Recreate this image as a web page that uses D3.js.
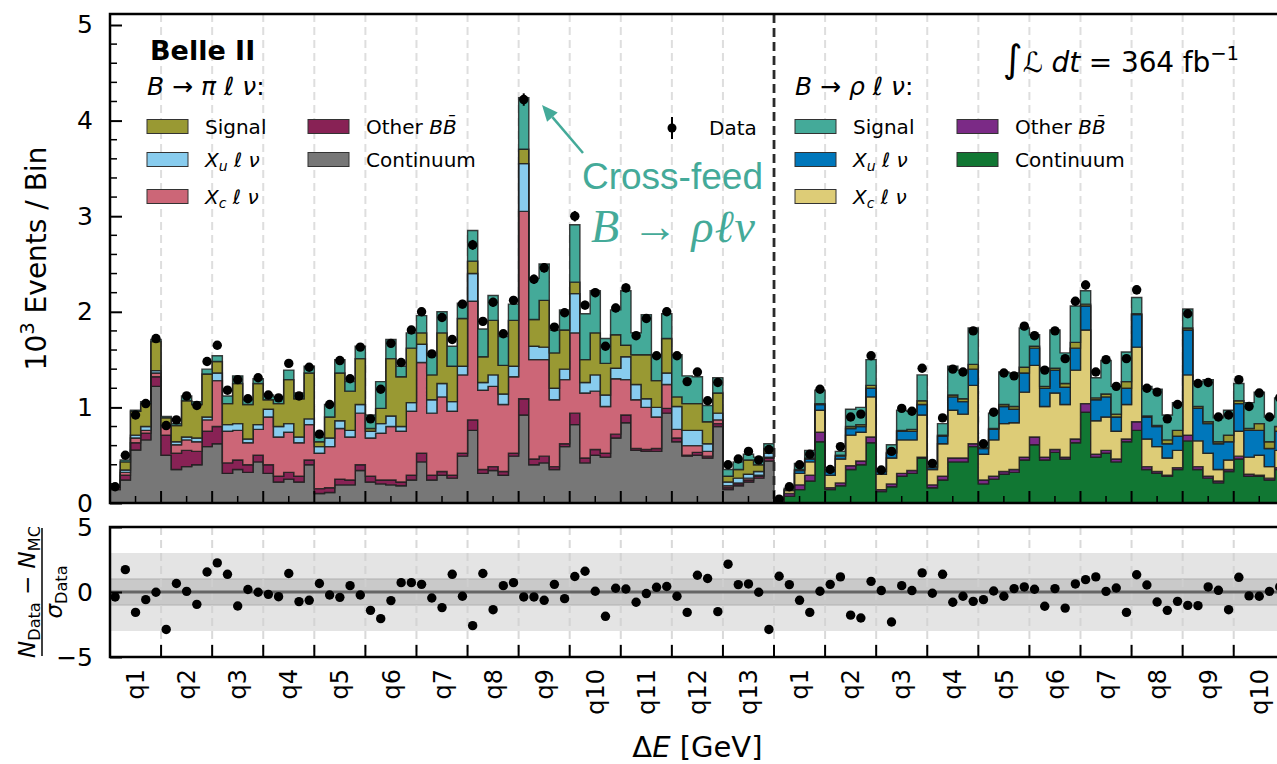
<!DOCTYPE html>
<html>
<head>
<meta charset="utf-8">
<script src="https://cdn.jsdelivr.net/npm/d3@7"></script>
<style>
body { margin: 0; background: #fff; }
svg { display: block; font-family: 'DejaVu Sans', sans-serif; }
</style>
</head>
<body>
<svg id="chart" width="1277" height="764"></svg>
<script>
// B -> pi l nu, 13 q2 bins x 5 dE bins (units of 10^3 events)
const piCont  = [.14,.24,.555,.66,1.22,.50,.35,.38,.40,.59,.62,.31,.35,.32,.43,.31,.22,.25,.22,.40,.10,.11,.19,.19,.34,.22,.20,.19,.18,.24,.43,.24,.29,.26,.49,.76,.31,.34,.29,.49,.92,.40,.42,.35,.59,.82,.42,.50,.48,.68,.84,.55,.54,.54,.94,.64,.49,.50,.47,.80,.14,.18,.22,.26,.44];
const piOther = [.03,.05,.075,.07,.10,.21,.17,.17,.14,.16,.18,.11,.10,.08,.07,.09,.06,.07,.06,.05,.05,.05,.06,.05,.06,.06,.04,.05,.04,.05,.09,.05,.04,.03,.03,.11,.04,.04,.04,.03,.17,.06,.07,.03,.03,.12,.05,.06,.04,.04,.08,.02,.02,.03,.05,.04,.01,.03,.02,.03,.02,.02,.02,.02,.03];
const piXc    = [0,.03,.05,.03,.04,.09,.09,.11,.10,.12,.48,.33,.31,.23,.27,.50,.41,.42,.35,.37,.37,.43,.53,.45,.54,.40,.49,.56,.53,.67,.95,.65,.78,.67,.82,1.24,.83,.84,.70,.80,1.96,1.04,1.01,.70,.67,.84,.68,.61,.49,.58,.37,.51,.44,.33,.25,.09,.10,.07,.05,.04,.02,.01,.02,.01,.01];
const piXu    = [0,.025,.03,.04,.025,.015,.03,.03,.04,.03,.08,.07,.07,.04,.05,.08,.11,.09,.06,.06,.07,.09,.08,.07,.09,.07,.10,.11,.05,.09,.19,.14,.14,.10,.09,.29,.08,.12,.11,.11,.50,.14,.13,.12,.11,.41,.11,.17,.12,.11,.24,.16,.09,.10,.12,.24,.16,.16,.08,.07,.04,.05,.04,.04,.04];
const piSig   = [0,.085,.25,.24,.305,.075,.17,.38,.35,.45,.12,.22,.42,.36,.43,.10,.24,.46,.40,.48,.05,.22,.50,.41,.48,.03,.16,.60,.52,.57,.12,.26,.53,.37,.50,.13,.27,.57,.30,.48,.15,.28,.49,.37,.41,.12,.24,.44,.33,.35,.12,.31,.46,.28,.36,.10,.28,.28,.23,.21,.06,.09,.15,.07,.05];
const piXfeed = [.005,.02,.01,.02,.02,.015,.02,.05,.03,.05,.06,.08,.08,.05,.05,.05,.07,.10,.06,.07,.05,.13,.14,.10,.13,.14,.28,.20,.11,.16,.18,.20,.22,.21,.16,.32,.29,.26,.30,.17,.54,.43,.38,.24,.21,.60,.48,.44,.26,.26,.57,.23,.42,.27,.26,.44,.29,.28,.17,.16,.07,.08,.06,.08,.05];
const piData  = [.17,.50,.92,1.04,1.72,.81,.87,1.12,1.02,1.48,1.65,1.18,1.29,1.09,1.31,1.13,1.10,1.46,1.12,1.42,.72,1.03,1.49,1.30,1.63,.88,1.19,1.67,1.47,1.81,2.00,1.56,1.94,1.71,2.08,2.70,1.90,2.10,1.77,2.12,4.22,2.34,2.46,1.84,1.99,3.00,2.07,2.20,1.64,2.04,2.25,1.75,1.93,1.54,2.00,1.54,1.27,1.37,1.07,1.26,.40,.46,.54,.45,.56];
const piPull  = [-0.38,1.72,-1.57,-0.59,-0.02,-2.88,0.65,0.05,-0.95,1.54,2.24,1.36,-1.08,0.19,-0.02,-0.18,-0.36,1.42,-0.74,-0.64,0.65,-0.23,-0.41,0.49,-0.23,-1.41,-2.05,-0.66,0.72,0.72,0.59,-0.46,-1.2,1.36,-0.33,-2.59,1.42,-1.36,0.49,0.72,-0.38,-0.38,-0.64,0.59,-0.51,1.19,1.6,0.06,-1.87,0.29,0.23,-0.79,-0.12,0.36,0.42,-0.33,-1.57,1.29,1.04,-1.51,2.14,0.57,0.62,-0.02,-2.88];

// B -> rho l nu, 10 q2 bins x 5 dE bins
const rhoCont  = [.015,.07,.14,.23,.64,.14,.18,.35,.40,.63,.12,.17,.28,.31,.47,.16,.24,.43,.43,.59,.20,.25,.30,.32,.45,.61,.45,.53,.46,.63,.95,.48,.52,.43,.64,.76,.35,.31,.28,.35,.65,.35,.26,.21,.33,.46,.28,.28,.24,.35];
const rhoOther = [.005,.03,.05,.06,.10,.02,.03,.04,.04,.06,.02,.03,.03,.03,.01,.03,.04,.04,.04,.03,.04,.03,.03,.03,.03,.08,.03,.03,.02,.04,.09,.03,.03,.03,.03,.09,.03,.02,.01,.02,.06,.03,.02,.02,.02,.03,.02,.01,.02,.02];
const rhoXc    = [.005,.03,.12,.14,.23,.13,.25,.32,.30,.42,.16,.27,.35,.32,.44,.16,.34,.50,.46,.61,.27,.38,.50,.49,.68,.75,.53,.59,.55,.72,.77,.35,.35,.29,.36,.78,.29,.26,.18,.18,.63,.27,.24,.12,.10,.26,.18,.21,.12,.18];
const rhoXu    = [.003,.01,.03,.03,.06,.04,.03,.07,.06,.09,.03,.05,.09,.09,.11,.02,.08,.14,.13,.17,.06,.11,.18,.14,.20,.18,.19,.24,.18,.23,.25,.22,.21,.15,.17,.34,.23,.21,.15,.15,.47,.34,.31,.27,.19,.29,.28,.26,.19,.20];
const rhoXfeed = [.002,.005,.01,.01,.01,.015,.01,.02,.02,.03,.005,.01,.01,.02,.04,.01,.01,.02,.03,.05,.01,.01,.02,.03,.06,.02,.02,.02,.04,.06,.02,.02,.03,.03,.07,.01,.01,.01,.04,.06,.02,.02,.02,.02,.07,.03,.02,.07,.07,.05];
const rhoSig   = [.005,.01,.065,.08,.14,.025,.04,.18,.18,.27,.01,.08,.21,.19,.27,.04,.12,.30,.30,.38,.05,.16,.34,.35,.41,.12,.19,.40,.32,.38,.14,.21,.35,.29,.31,.17,.31,.38,.26,.29,.20,.26,.44,.25,.26,.18,.27,.33,.26,.30];
const rhoData  = [.04,.17,.40,.51,1.19,.35,.59,.90,.93,1.54,.345,.54,.99,.96,1.41,.415,.89,1.40,1.37,1.80,.62,.95,1.36,1.33,1.85,1.75,1.39,1.80,1.51,2.11,2.28,1.37,1.50,1.22,1.51,2.23,1.20,1.16,.88,1.03,1.98,1.25,1.26,.90,.92,1.29,1.01,1.15,.90,1.10];
const rhoPull  = [1.21,0.57,-0.64,-1.57,0.06,0.59,1.16,-1.78,-2.0,0.82,0.11,-2.31,0.49,0.11,1.47,-0.1,1.36,-0.79,-0.33,-0.72,-0.59,0.08,-0.33,0.26,0.39,0.21,-1.1,0.26,-1.24,0.62,0.95,1.16,0.05,0.31,-1.57,1.33,0.54,-0.77,-1.41,-0.72,-1.03,-1.05,0.39,0.13,-1.36,1.13,-0.3,-0.33,0.05,0.39];

const piBins  = ['q1','q2','q3','q4','q5','q6','q7','q8','q9','q10','q11','q12','q13'];
const rhoBins = ['q1','q2','q3','q4','q5','q6','q7','q8','q9','q10'];
const yTicks = [0, 1, 2, 3, 4, 5];
const pullTicks = [-5, 0, 5];
const perQ = 5;

const piLayers = [
	{ key: 'cont', values: piCont, color: '#777777' },
	{ key: 'other', values: piOther, color: '#882255' },
	{ key: 'xc', values: piXc, color: '#cc6677' },
	{ key: 'xu', values: piXu, color: '#88ccee' },
	{ key: 'sig', values: piSig, color: '#999933' },
	{ key: 'xfeed', values: piXfeed, color: '#44aa99' }
];
const rhoLayers = [
	{ key: 'cont', values: rhoCont, color: '#117733' },
	{ key: 'other', values: rhoOther, color: '#7b2a86' },
	{ key: 'xc', values: rhoXc, color: '#ddcc77' },
	{ key: 'xu', values: rhoXu, color: '#0077bb' },
	{ key: 'xfeed', values: rhoXfeed, color: '#999933' },
	{ key: 'sig', values: rhoSig, color: '#44aa99' }
];

const nPi = piData.length;
const nAll = nPi + rhoData.length;

const svg = d3.select('#chart');
svg.append('rect').attr('width', 1277).attr('height', 764).attr('fill', '#fff');

const x = d3.scaleLinear().domain([0, nAll]).range([110, 1284.8]);
const y = d3.scaleLinear().domain([0, 5.115]).range([503, 14]);
const yp = d3.scaleLinear().domain([-5, 5]).range([657, 527]);

const main = svg.append('g');
const ratio = svg.append('g');

// grid lines at q2 boundaries
const edges = d3.range(perQ, nAll, perQ);
main.append('g').selectAll('line')
	.data(edges.filter(e => e !== nPi))
	.enter().append('line')
		.attr('x1', d => x(d)).attr('x2', d => x(d))
		.attr('y1', y.range()[1]).attr('y2', y.range()[0])
		.attr('stroke', '#dedede').attr('stroke-width', 2)
		.attr('stroke-dasharray', '8,5');

// stacked step histograms
function drawStack (layers, offset) {
	const rows = layers[0].values.map((v, i) => {
		const r = {};
		layers.forEach(l => { r[l.key] = l.values[i]; });
		return r;
	});
	const series = d3.stack().keys(layers.map(l => l.key))(rows);
	const area = d3.area()
		.x(p => x(p[0]))
		.y0(p => y(p[1]))
		.y1(p => y(p[2]));
	series.forEach((s, k) => {
		const pts = [];
		s.forEach((d, i) => {
			pts.push([offset + i, d[0], d[1]]);
			pts.push([offset + i + 1, d[0], d[1]]);
		});
		main.append('path')
			.attr('d', area(pts))
			.attr('fill', layers[k].color)
			.attr('stroke', '#1e1e1e')
			.attr('stroke-opacity', 0.85)
			.attr('stroke-width', 1.4)
			.attr('stroke-linejoin', 'miter');
	});
}
drawStack(piLayers, 0);
drawStack(rhoLayers, nPi);

// separator between the two channels
main.append('line')
	.attr('x1', x(nPi)).attr('x2', x(nPi))
	.attr('y1', y.range()[1]).attr('y2', y.range()[0])
	.attr('stroke', '#2a2a2a').attr('stroke-width', 2.8)
	.attr('stroke-dasharray', '9,5');

// data points with poisson errors
const data = piData.concat(rhoData);
const pts = main.append('g');
pts.selectAll('line')
	.data(data)
	.enter().append('line')
		.attr('x1', (d, i) => x(i + 0.5)).attr('x2', (d, i) => x(i + 0.5))
		.attr('y1', d => y(d + Math.sqrt(d * 1000) / 1000))
		.attr('y2', d => y(d - Math.sqrt(d * 1000) / 1000))
		.attr('stroke', '#000').attr('stroke-width', 2);
pts.selectAll('circle')
	.data(data)
	.enter().append('circle')
		.attr('cx', (d, i) => x(i + 0.5))
		.attr('cy', d => y(d))
		.attr('r', 4.7)
		.attr('fill', '#000');

// main frame + ticks
main.append('rect')
	.attr('x', x(0)).attr('y', y.range()[1])
	.attr('width', x(nAll) - x(0)).attr('height', y.range()[0] - y.range()[1])
	.attr('fill', 'none').attr('stroke', '#000').attr('stroke-width', 2.5);

const yAxis = main.append('g')
	.attr('transform', `translate(${x(0)},0)`)
	.call(d3.axisLeft(y).tickValues(yTicks).tickFormat(d3.format('d'))
		.tickSizeInner(-12).tickSizeOuter(0).tickPadding(17));
yAxis.select('.domain').remove();
yAxis.selectAll('line').attr('stroke-width', 2);
yAxis.selectAll('text').attr('font-size', 25).attr('font-family', 'DejaVu Sans').attr('fill', '#000');

main.append('g').selectAll('line')
	.data(d3.range(0, 51).map(v => v / 10).filter(v => v % 1 !== 0 && Math.round(v * 10) % 2 === 0))
	.enter().append('line')
		.attr('x1', x(0)).attr('x2', x(0) + 7)
		.attr('y1', d => y(d)).attr('y2', d => y(d))
		.attr('stroke', '#000').attr('stroke-width', 1.5);

main.append('g').selectAll('line')
	.data(d3.range(perQ, nAll, perQ))
	.enter().append('line')
		.attr('x1', d => x(d)).attr('x2', d => x(d))
		.attr('y1', y(0)).attr('y2', y(0) - 12)
		.attr('stroke', '#000').attr('stroke-width', 2);
main.append('g').selectAll('line')
	.data(d3.range(perQ / 2, nAll, perQ))
	.enter().append('line')
		.attr('x1', d => x(d)).attr('x2', d => x(d))
		.attr('y1', y(0)).attr('y2', y(0) - 7)
		.attr('stroke', '#000').attr('stroke-width', 1.5);

// ratio (pull) panel
const bandW = x(nAll) - x(0);
ratio.append('rect').attr('x', x(0)).attr('width', bandW)
	.attr('y', yp(3)).attr('height', yp(-3) - yp(3)).attr('fill', '#e4e4e4');
ratio.append('rect').attr('x', x(0)).attr('width', bandW)
	.attr('y', yp(1)).attr('height', yp(-1) - yp(1)).attr('fill', '#c9c9c9')
	.attr('stroke', '#b0b0b0').attr('stroke-width', 1);
ratio.append('g').selectAll('line')
	.data(edges)
	.enter().append('line')
		.attr('x1', d => x(d)).attr('x2', d => x(d))
		.attr('y1', yp(5)).attr('y2', yp(-5))
		.attr('stroke', '#cfcfcf').attr('stroke-opacity', 0.8).attr('stroke-width', 2)
		.attr('stroke-dasharray', '8,5');
ratio.append('line')
	.attr('x1', x(0)).attr('x2', x(nAll))
	.attr('y1', yp(0)).attr('y2', yp(0))
	.attr('stroke', '#666').attr('stroke-width', 3);

const pulls = piPull.concat(rhoPull);
ratio.append('g').selectAll('circle')
	.data(pulls)
	.enter().append('circle')
		.attr('cx', (d, i) => x(i + 0.5))
		.attr('cy', d => yp(d))
		.attr('r', 4.7)
		.attr('fill', '#000');

ratio.append('rect')
	.attr('x', x(0)).attr('y', yp(5))
	.attr('width', bandW).attr('height', yp(-5) - yp(5))
	.attr('fill', 'none').attr('stroke', '#000').attr('stroke-width', 2.5);

const pAxis = ratio.append('g')
	.attr('transform', `translate(${x(0)},0)`)
	.call(d3.axisLeft(yp).tickValues(pullTicks).tickSizeInner(-12).tickSizeOuter(0).tickPadding(17)
		.tickFormat(d => d < 0 ? '\u2212' + Math.abs(d) : d));
pAxis.select('.domain').remove();
pAxis.selectAll('line').attr('stroke-width', 2);
pAxis.selectAll('text').attr('font-size', 25).attr('font-family', 'DejaVu Sans').attr('fill', '#000');

ratio.append('g').selectAll('line')
	.data(d3.range(perQ, nAll, perQ))
	.enter().append('line')
		.attr('x1', d => x(d)).attr('x2', d => x(d))
		.attr('y1', yp(-5)).attr('y2', yp(-5) - 12)
		.attr('stroke', '#000').attr('stroke-width', 2);

// q2 bin labels
const qLabels = piBins.map((t, k) => ({ t, c: perQ * k + perQ / 2 }))
	.concat(rhoBins.map((t, k) => ({ t, c: nPi + perQ * k + perQ / 2 })));
ratio.append('g').selectAll('text')
	.data(qLabels)
	.enter().append('text')
		.attr('transform', d => `translate(${x(d.c)},669) rotate(-90)`)
		.attr('text-anchor', 'end')
		.attr('dy', '0.36em')
		.attr('font-size', 24)
		.text(d => d.t);

// rich text helper: parts [{t, i, sub, sup, size}]
function rich (g, px, py, size, parts, attrs) {
	const txt = g.append('text').attr('x', px).attr('y', py).attr('font-size', size);
	Object.entries(attrs || {}).forEach(([k, v]) => txt.attr(k, v));
	let shift = 0;
	parts.forEach(p => {
		const target = p.sub ? size * 0.22 : p.sup ? -size * 0.42 : 0;
		const ts = txt.append('tspan').text(p.t).attr('dy', target - shift);
		shift = target;
		if (p.i) ts.attr('font-style', 'italic');
		if (p.sub || p.sup) ts.attr('font-size', size * 0.7);
		if (p.size) ts.attr('font-size', p.size);
		if (p.b) ts.attr('font-weight', 'bold');
	});
	return txt;
}

// axis titles
rich(svg, 0, 0, 28, [{ t: '10' }, { t: '3', sup: true }, { t: ' Events / Bin' }],
	{ transform: `translate(46,${(y.range()[0] + y.range()[1]) / 2}) rotate(-90)`, 'text-anchor': 'middle' });
rich(svg, x(nAll / 2), 757, 29, [{ t: '\u0394' }, { t: 'E', i: true }, { t: ' [GeV]' }],
	{ 'text-anchor': 'middle' });

const frac = svg.append('g').attr('transform', `translate(42,${yp(0)}) rotate(-90)`);
frac.append('line').attr('x1', -64).attr('x2', 64).attr('y1', 0).attr('y2', 0)
	.attr('stroke', '#000').attr('stroke-width', 1.5);
rich(frac, 0, -7, 23, [{ t: 'N', i: true }, { t: 'Data', sub: true }, { t: ' \u2212 ' }, { t: 'N', i: true }, { t: 'MC', sub: true }],
	{ 'text-anchor': 'middle' });
rich(frac, 0, 20, 23, [{ t: '\u03c3', i: true }, { t: 'Data', sub: true }],
	{ 'text-anchor': 'middle' });

// legends
const leg = svg.append('g');
leg.append('text').attr('x', 150).attr('y', 60).attr('font-size', 27).attr('font-weight', 'bold').text('Belle II');
rich(leg, 147, 95, 25, [{ t: 'B', i: true }, { t: ' \u2192 ' }, { t: '\u03c0', i: true }, { t: ' \u2113 ' , i: true }, { t: '\u03bd', i: true }, { t: ':' }]);
rich(leg, 795, 95, 25, [{ t: 'B', i: true }, { t: ' \u2192 ' }, { t: '\u03c1', i: true }, { t: ' \u2113 ', i: true }, { t: '\u03bd', i: true }, { t: ':' }]);

const xuLabel = [{ t: 'X', i: true }, { t: 'u', i: true, sub: true }, { t: ' \u2113 \u03bd', i: true }];
const xcLabel = [{ t: 'X', i: true }, { t: 'c', i: true, sub: true }, { t: ' \u2113 \u03bd', i: true }];
const bbLabel = [{ t: 'Other ' }, { t: 'B', i: true }, { t: 'B\u0304', i: true }];
const rowsY = [126.5, 159.5, 196.5];
const legendItems = [
	{ x: 147, row: 0, color: '#999933', parts: [{ t: 'Signal' }] },
	{ x: 147, row: 1, color: '#88ccee', parts: xuLabel },
	{ x: 147, row: 2, color: '#cc6677', parts: xcLabel },
	{ x: 308, row: 0, color: '#882255', parts: bbLabel },
	{ x: 308, row: 1, color: '#777777', parts: [{ t: 'Continuum' }] },
	{ x: 795, row: 0, color: '#44aa99', parts: [{ t: 'Signal' }] },
	{ x: 795, row: 1, color: '#0077bb', parts: xuLabel },
	{ x: 795, row: 2, color: '#ddcc77', parts: xcLabel },
	{ x: 957, row: 0, color: '#7b2a86', parts: bbLabel },
	{ x: 957, row: 1, color: '#117733', parts: [{ t: 'Continuum' }] }
];
legendItems.forEach(it => {
	const cy = rowsY[it.row];
	leg.append('rect').attr('x', it.x).attr('y', cy - 7).attr('width', 41).attr('height', 14)
		.attr('fill', it.color).attr('stroke', '#333').attr('stroke-width', 1);
	rich(leg, it.x + 58, cy + 7, 20, it.parts);
});

// data legend entry
leg.append('line').attr('x1', 672).attr('x2', 672).attr('y1', 117).attr('y2', 139)
	.attr('stroke', '#000').attr('stroke-width', 2);
leg.append('circle').attr('cx', 672).attr('cy', 128).attr('r', 4.5).attr('fill', '#000');
leg.append('text').attr('x', 709).attr('y', 135).attr('font-size', 20).text('Data');

// luminosity
rich(leg, 1003, 72, 28, [{ t: '\u222b', size: 38 }, { t: '\u2112', i: true }, { t: ' ' }, { t: 'dt', i: true }, { t: ' = 364 fb' }, { t: '\u22121', sup: true }],
	{ textLength: 236, lengthAdjust: 'spacing' });

// cross-feed annotation
const teal = '#44aa99';
leg.append('text').attr('x', 582).attr('y', 189).attr('font-size', 37)
	.attr('font-family', 'Liberation Sans, Arial, sans-serif').attr('fill', teal).text('Cross-feed');
rich(leg, 591, 242, 46, [{ t: 'B', i: true }, { t: ' \u2192 ' }, { t: '\u03c1\u2113\u03bd', i: true }],
	{ 'font-family': 'Liberation Serif, DejaVu Serif, serif', fill: teal, textLength: 164, lengthAdjust: 'spacing' });

const tail = [583, 153], tip = [542, 105];
const ang = Math.atan2(tip[1] - tail[1], tip[0] - tail[0]);
const hl = 16, hw = 7;
const base = [tip[0] - hl * Math.cos(ang), tip[1] - hl * Math.sin(ang)];
leg.append('line').attr('x1', tail[0]).attr('y1', tail[1]).attr('x2', base[0]).attr('y2', base[1])
	.attr('stroke', teal).attr('stroke-width', 2.5);
leg.append('path')
	.attr('d', d3.line()([
		tip,
		[base[0] + hw * Math.sin(ang), base[1] - hw * Math.cos(ang)],
		[base[0] - hw * Math.sin(ang), base[1] + hw * Math.cos(ang)]
	]) + 'Z')
	.attr('fill', teal);
</script>
</body>
</html>
